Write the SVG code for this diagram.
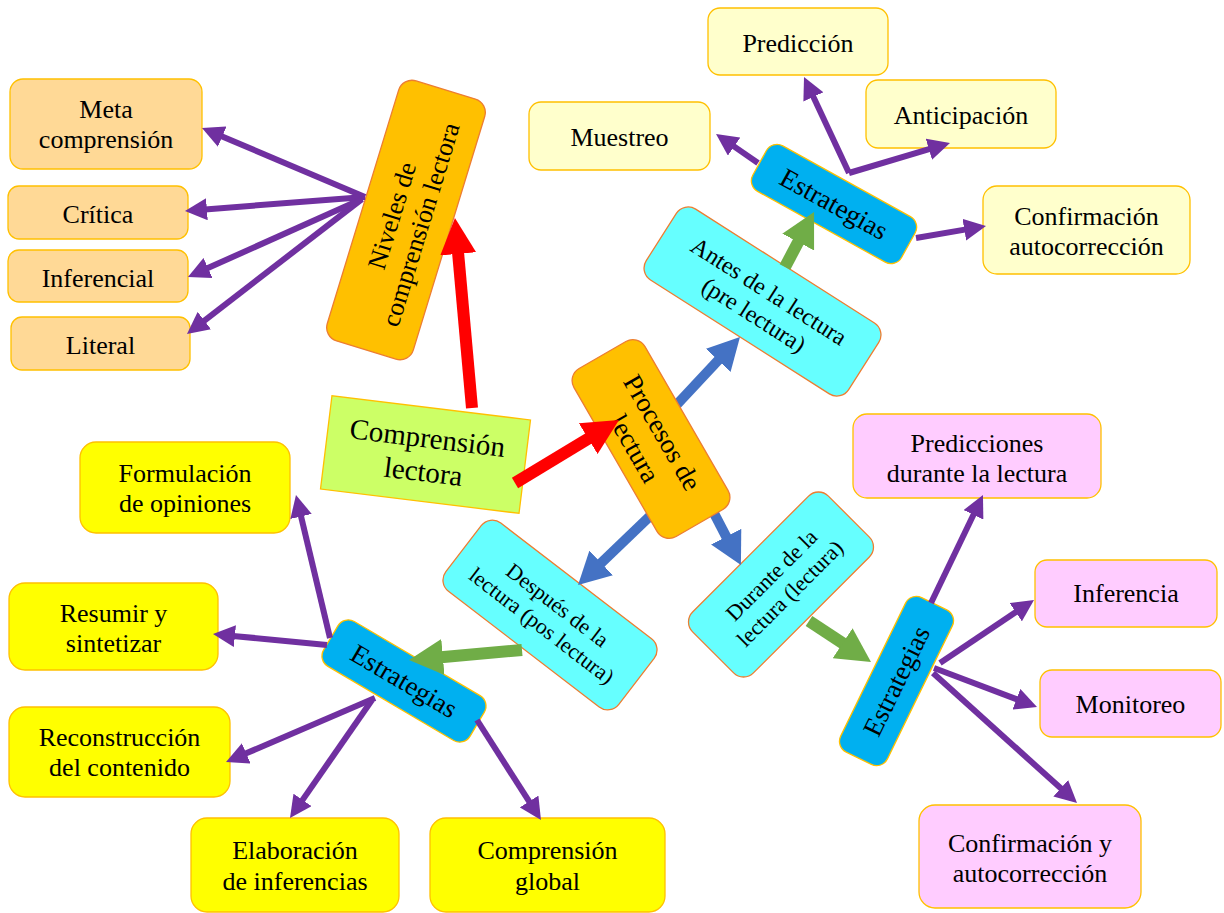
<svg xmlns="http://www.w3.org/2000/svg" width="1224" height="913" viewBox="0 0 1224 913">
  <style>
    text { font-family: "Liberation Serif", Tinos, "Times New Roman", "DejaVu Serif", serif; fill: #000; text-anchor: middle; }
    .s26 { font-size: 26px; }
    .s27 { font-size: 27px; }
    .s24 { font-size: 24px; }
    .s22 { font-size: 22px; }
    .s29 { font-size: 29px; }
    .box { stroke-width: 1.3; }
    .lev { fill: #FFD996; stroke: #FFC000; }
    .pre { fill: #FFFFCC; stroke: #FFC000; }
    .dur { fill: #FFCCFF; stroke: #FFC000; }
    .pos { fill: #FFFF00; stroke: #FFC000; }
    .core { fill: #FFC000; stroke: #ED7D31; }
    .stage { fill: #66FFFF; stroke: #ED7D31; }
    .strat { fill: #00B0F0; stroke: #FFC000; }
    .purple { stroke: #7030A0; stroke-width: 6; fill: none; marker-end: url(#hp); }
    .red { stroke: #FF0000; stroke-width: 12; fill: none; marker-end: url(#hr); }
    .blue { stroke: #4472C4; stroke-width: 10; fill: none; marker-end: url(#hb); }
    .green { stroke: #70AD47; stroke-width: 12; fill: none; marker-end: url(#hg); }
  </style>
  <defs>
    <marker id="hp" markerUnits="userSpaceOnUse" viewBox="0 0 22 22" markerWidth="22" markerHeight="22" refX="2" refY="11" orient="auto">
      <path d="M0,0 L22,11 L0,22 z" fill="#7030A0"/>
    </marker>
    <marker id="hr" markerUnits="userSpaceOnUse" viewBox="0 0 36 36" markerWidth="36" markerHeight="36" refX="3" refY="18" orient="auto">
      <path d="M0,0 L36,18 L0,36 z" fill="#FF0000"/>
    </marker>
    <marker id="hb" markerUnits="userSpaceOnUse" viewBox="0 0 32 34" markerWidth="32" markerHeight="34" refX="2" refY="17" orient="auto">
      <path d="M0,0 L32,17 L0,34 z" fill="#4472C4"/>
    </marker>
    <marker id="hg" markerUnits="userSpaceOnUse" viewBox="0 0 34 36" markerWidth="34" markerHeight="36" refX="2" refY="18" orient="auto">
      <path d="M0,0 L34,18 L0,36 z" fill="#70AD47"/>
    </marker>
  </defs>

  <rect width="1224" height="913" fill="#FFFFFF"/>

  <!-- reading levels -->
  <g id="meta">
    <rect class="box lev" x="10" y="79" width="192" height="90" rx="13"/>
    <text class="s26" x="106" y="118">Meta</text>
    <text class="s26" x="106" y="148">comprensión</text>
  </g>
  <g id="critica">
    <rect class="box lev" x="8" y="186" width="180" height="53" rx="11"/>
    <text class="s26" x="98" y="223">Crítica</text>
  </g>
  <g id="inferencial">
    <rect class="box lev" x="8" y="250" width="180" height="52" rx="11"/>
    <text class="s26" x="98" y="287">Inferencial</text>
  </g>
  <g id="literal">
    <rect class="box lev" x="11" y="317" width="179" height="53" rx="11"/>
    <text class="s26" x="100.5" y="354">Literal</text>
  </g>
  <g id="niveles" transform="translate(406,220) rotate(-73)">
    <rect class="box core" x="-136" y="-45" width="272" height="90" rx="14"/>
    <text class="s26" x="0" y="-6">Niveles de</text>
    <text class="s26" x="0" y="24">comprensión lectora</text>
  </g>

  <g id="comprension" transform="translate(425.5,454.5) rotate(7)">
    <rect class="box" x="-100" y="-47" width="200" height="94" fill="#CCFF66" stroke="#FFC000"/>
    <text class="s29" x="0" y="-7">Comprensión</text>
    <text class="s29" x="0" y="27">lectora</text>
  </g>

  <!-- before reading -->
  <g id="antes" transform="translate(762.5,301.5) rotate(32.5)">
    <rect class="box stage" x="-120" y="-42" width="240" height="84" rx="14"/>
    <text class="s24" x="0" y="-4">Antes de la lectura</text>
    <text class="s24" x="0" y="24">(pre lectura)</text>
  </g>
  <g id="estrategias-antes" transform="translate(834,204) rotate(29)">
    <rect class="box strat" x="-85" y="-26" width="170" height="52" rx="12"/>
    <text class="s27" x="0" y="9">Estrategias</text>
  </g>
  <g id="muestreo">
    <rect class="box pre" x="529" y="102" width="181" height="68" rx="12"/>
    <text class="s26" x="619.5" y="146">Muestreo</text>
  </g>
  <g id="prediccion">
    <rect class="box pre" x="708" y="8" width="180" height="67" rx="12"/>
    <text class="s26" x="798" y="52">Predicción</text>
  </g>
  <g id="anticipacion">
    <rect class="box pre" x="866" y="80" width="190" height="68" rx="12"/>
    <text class="s26" x="961" y="124">Anticipación</text>
  </g>
  <g id="confirmacion-antes">
    <rect class="box pre" x="983" y="186" width="207" height="88" rx="14"/>
    <text class="s26" x="1086.5" y="225">Confirmación</text>
    <text class="s26" x="1086.5" y="255">autocorrección</text>
  </g>

  <!-- during reading -->
  <g id="durante" transform="translate(781,584.5) rotate(-45)">
    <rect class="box stage" x="-96" y="-43" width="192" height="86" rx="14"/>
    <text class="s22" x="0" y="-6">Durante de la</text>
    <text class="s22" x="0" y="20">lectura (lectura)</text>
  </g>
  <g id="estrategias-durante" transform="translate(896.5,681) rotate(-64)">
    <rect class="box strat" x="-86" y="-26" width="172" height="52" rx="12"/>
    <text class="s27" x="0" y="9">Estrategias</text>
  </g>
  <g id="predicciones">
    <rect class="box dur" x="853" y="414" width="248" height="84" rx="14"/>
    <text class="s26" x="977" y="452">Predicciones</text>
    <text class="s26" x="977" y="482">durante la lectura</text>
  </g>
  <g id="inferencia">
    <rect class="box dur" x="1035" y="560" width="182" height="67" rx="12"/>
    <text class="s26" x="1126" y="602">Inferencia</text>
  </g>
  <g id="monitoreo">
    <rect class="box dur" x="1040" y="670" width="181" height="67" rx="12"/>
    <text class="s26" x="1130.5" y="713">Monitoreo</text>
  </g>
  <g id="confirmacion-durante">
    <rect class="box dur" x="919" y="805" width="222" height="103" rx="16"/>
    <text class="s26" x="1030" y="852">Confirmación y</text>
    <text class="s26" x="1030" y="882">autocorrección</text>
  </g>

  <!-- after reading -->
  <g id="despues" transform="translate(550,615) rotate(37.5)">
    <rect class="box stage" x="-109" y="-43" width="218" height="86" rx="14"/>
    <text class="s22" x="0" y="-5">Después de la</text>
    <text class="s22" x="0" y="21">lectura (pos lectura)</text>
  </g>
  <g id="estrategias-despues" transform="translate(404,681) rotate(30.5)">
    <rect class="box strat" x="-85" y="-26" width="170" height="52" rx="12"/>
    <text class="s27" x="0" y="9">Estrategias</text>
  </g>
  <g id="formulacion">
    <rect class="box pos" x="80" y="442" width="210" height="91" rx="16"/>
    <text class="s26" x="185" y="482">Formulación</text>
    <text class="s26" x="185" y="512">de opiniones</text>
  </g>
  <g id="resumir">
    <rect class="box pos" x="9" y="583" width="209" height="87" rx="16"/>
    <text class="s26" x="113.5" y="622">Resumir y</text>
    <text class="s26" x="113.5" y="652">sintetizar</text>
  </g>
  <g id="reconstruccion">
    <rect class="box pos" x="9" y="707" width="221" height="90" rx="16"/>
    <text class="s26" x="119.5" y="746">Reconstrucción</text>
    <text class="s26" x="119.5" y="776">del contenido</text>
  </g>
  <g id="elaboracion">
    <rect class="box pos" x="191" y="818" width="208" height="94" rx="16"/>
    <text class="s26" x="295" y="859">Elaboración</text>
    <text class="s26" x="295" y="890">de inferencias</text>
  </g>
  <g id="global">
    <rect class="box pos" x="430" y="818" width="235" height="94" rx="16"/>
    <text class="s26" x="547.5" y="859">Comprensión</text>
    <text class="s26" x="547.5" y="890">global</text>
  </g>

  <!-- stage arrows, running out from under the central node -->
  <g id="connectors-stages">
    <line class="blue" x1="669.3" y1="412.6" x2="719.5" y2="358.9"/>
    <line class="blue" x1="706.8" y1="499.3" x2="727.1" y2="538.4"/>
    <line class="blue" x1="662.4" y1="504.2" x2="599.7" y2="564.3"/>
  </g>

  <g id="procesos" transform="translate(651,439) rotate(60)">
    <rect class="box core" x="-97" y="-41" width="194" height="82" rx="14"/>
    <text class="s27" x="0" y="-4">Procesos de</text>
    <text class="s27" x="0" y="28">lectura</text>
  </g>

  <!-- connectors -->
  <g id="connectors">
    <line class="purple" x1="365" y1="197" x2="220.4" y2="135.8"/>
    <line class="purple" x1="365" y1="197" x2="204.9" y2="209.4"/>
    <line class="purple" x1="362" y1="199" x2="206.2" y2="268.8"/>
    <line class="purple" x1="362" y1="199" x2="202.8" y2="321.8"/>

    <line class="red" x1="472" y1="408" x2="457.9" y2="250.9"/>
    <line class="red" x1="515" y1="483" x2="590.8" y2="437.1"/>

    <line class="green" x1="785" y1="267" x2="799.1" y2="240.3"/>
    <line class="green" x1="809" y1="621" x2="844.3" y2="644.3"/>
    <line class="green" x1="522" y1="650" x2="440.9" y2="657.2"/>

    <line class="purple" x1="758" y1="163" x2="732.5" y2="145.4"/>
    <line class="purple" x1="849" y1="173" x2="812.5" y2="95.1"/>
    <line class="purple" x1="849" y1="173" x2="930.8" y2="148.7"/>
    <line class="purple" x1="916" y1="238" x2="966.3" y2="229.4"/>

    <line class="purple" x1="931" y1="603" x2="974.3" y2="513"/>
    <line class="purple" x1="940" y1="663" x2="1017.4" y2="611.1"/>
    <line class="purple" x1="934" y1="668" x2="1018.3" y2="699.9"/>
    <line class="purple" x1="933" y1="673" x2="1062.2" y2="789.6"/>

    <line class="purple" x1="330" y1="638" x2="300.6" y2="514.5"/>
    <line class="purple" x1="327" y1="645" x2="232.9" y2="635.9"/>
    <line class="purple" x1="375" y1="698" x2="244.4" y2="754.1"/>
    <line class="purple" x1="372" y1="700" x2="301.4" y2="801.6"/>
    <line class="purple" x1="477" y1="720" x2="530.2" y2="803.2"/>
  </g>
</svg>
